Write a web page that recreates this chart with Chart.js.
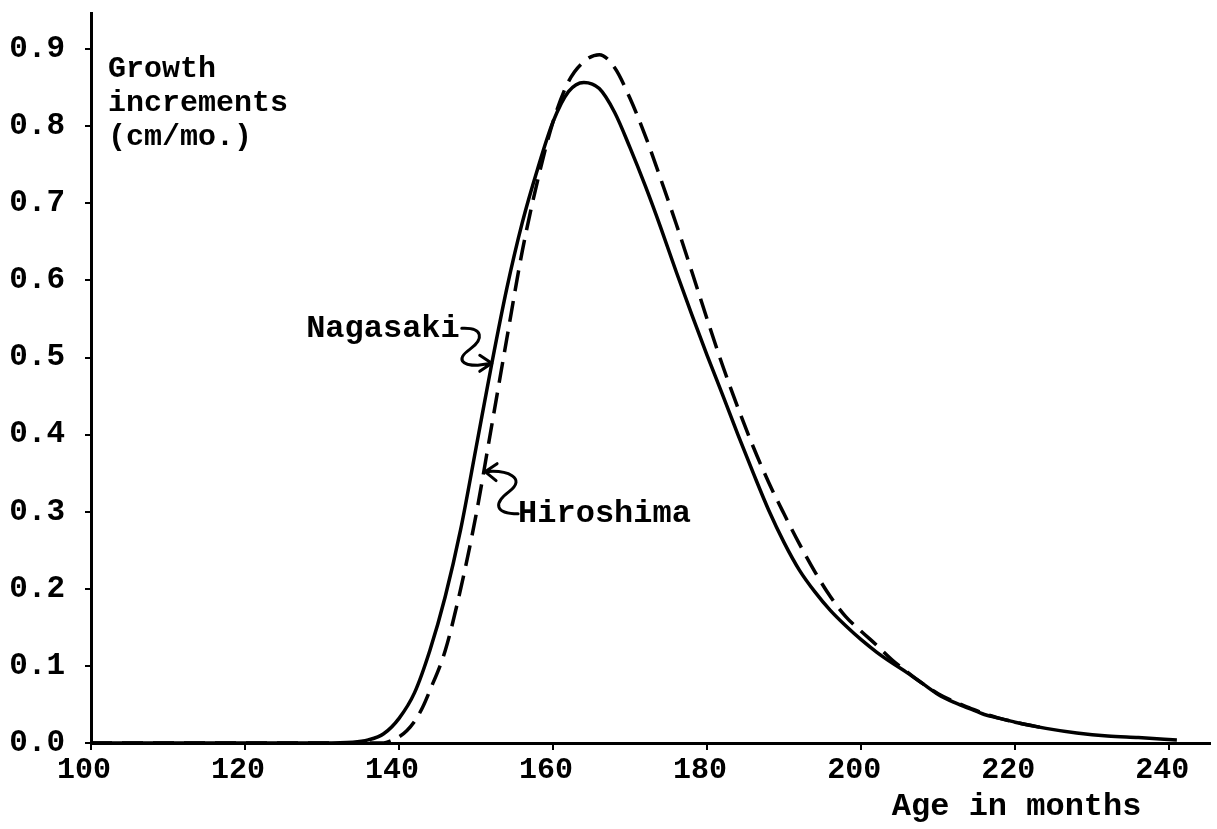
<!DOCTYPE html>
<html>
<head>
<meta charset="utf-8">
<script src="https://cdn.jsdelivr.net/npm/chart.js@4"></script>
<style>
  body { margin: 0; background: #fff; }
  canvas { display: block; }
</style>
</head>
<body>
<canvas id="growth" width="1217" height="829"></canvas>
<script>
// values
var nagasakiMonths = [100, 120, 130, 134, 136, 138, 140, 142, 144, 146, 148, 150, 152, 154, 156, 158, 160, 162, 164, 166, 168, 170, 172, 174, 176, 178, 180, 182, 184, 186, 188, 190, 192, 194, 196, 198, 200, 202, 204, 206, 208, 210, 212, 214, 216, 218, 220, 224, 228, 232, 236, 241];
var nagasakiValues = [0, 0, 0, 0.001, 0.004, 0.012, 0.032, 0.065, 0.12, 0.19, 0.277, 0.383, 0.49, 0.59, 0.675, 0.745, 0.806, 0.845, 0.857, 0.849, 0.818, 0.772, 0.722, 0.668, 0.611, 0.556, 0.503, 0.452, 0.40, 0.35, 0.302, 0.26, 0.224, 0.196, 0.172, 0.152, 0.134, 0.118, 0.104, 0.091, 0.077, 0.063, 0.053, 0.045, 0.037, 0.032, 0.027, 0.019, 0.013, 0.009, 0.007, 0.004];

var hiroshimaMonths = [100, 130, 138, 139, 140, 141, 142, 143, 144, 146, 148, 150, 152, 154, 156, 158, 160, 162, 164, 166, 168, 170, 172, 174, 176, 178, 180, 182, 184, 186, 188, 190, 192, 194, 196, 198, 200, 202, 204, 206, 208, 210, 212, 214, 216, 218, 220, 224];
var hiroshimaValues = [0, 0, 0, 0.003, 0.008, 0.016, 0.028, 0.045, 0.068, 0.12, 0.2, 0.296, 0.41, 0.525, 0.638, 0.73, 0.806, 0.858, 0.884, 0.893, 0.876, 0.836, 0.787, 0.731, 0.673, 0.612, 0.55, 0.49, 0.435, 0.384, 0.338, 0.297, 0.258, 0.222, 0.19, 0.164, 0.145, 0.127, 0.108, 0.092, 0.077, 0.064, 0.054, 0.046, 0.038, 0.032, 0.027, 0.019];

var xTicks = [100, 120, 140, 160, 180, 200, 220, 240];
var yTicks = [0, 0.1, 0.2, 0.3, 0.4, 0.5, 0.6, 0.7, 0.8, 0.9];

var FONT = '"Liberation Mono", "Courier New", monospace';

function toPoints(xs, ys) {
  var pts = [];
  for (var i = 0; i < xs.length; i++) pts.push({ x: xs[i], y: ys[i] });
  return pts;
}

// hand drawn labels with squiggly arrows, anchored on the curves
var notes = {
  id: 'notes',
  afterDatasetsDraw: function(chart) {
    var c = chart.ctx;
    var xs = chart.scales.x, ys = chart.scales.y;
    c.save();
    c.fillStyle = '#000';
    c.strokeStyle = '#000';
    c.lineWidth = 3;
    c.lineCap = 'round';
    c.lineJoin = 'round';
    c.textBaseline = 'middle';

    // y axis caption
    c.font = 'bold 30px ' + FONT;
    c.textAlign = 'left';
    var cx = xs.getPixelForValue(102.2);
    c.fillText('Growth', cx, ys.getPixelForValue(0.874));
    c.fillText('increments', cx, ys.getPixelForValue(0.83));
    c.fillText('(cm/mo.)', cx, ys.getPixelForValue(0.786));

    c.font = 'bold 32px ' + FONT;
    // Nagasaki
    var tx = xs.getPixelForValue(152.04), ty = ys.getPixelForValue(0.4925);
    c.textAlign = 'right';
    c.fillText('Nagasaki', tx - 32, ty - 34);
    c.beginPath();
    c.moveTo(tx - 30, ty - 35);
    c.bezierCurveTo(tx - 8, ty - 36, tx - 8, ty - 24, tx - 22, ty - 14);
    c.bezierCurveTo(tx - 36, ty - 4, tx - 30, ty + 2, tx - 14, ty + 2);
    c.lineTo(tx, ty);
    c.moveTo(tx - 12, ty - 8);
    c.lineTo(tx, ty);
    c.lineTo(tx - 12, ty + 8);
    c.stroke();

    // Hiroshima
    var hx = xs.getPixelForValue(151.17), hy = ys.getPixelForValue(0.352);
    c.textAlign = 'left';
    c.fillText('Hiroshima', hx + 33, hy + 42);
    c.beginPath();
    c.moveTo(hx, hy);
    c.bezierCurveTo(hx + 22, hy - 2, hx + 42, hy + 6, hx + 24, hy + 20);
    c.bezierCurveTo(hx + 8, hy + 32, hx + 10, hy + 42, hx + 33, hy + 42);
    c.moveTo(hx + 12, hy - 8);
    c.lineTo(hx, hy);
    c.lineTo(hx + 11, hy + 9);
    c.stroke();

    // x axis caption
    c.textAlign = 'right';
    c.fillText('Age in months', xs.getPixelForValue(236.4), xs.bottom - 22);
    c.restore();
  }
};

var config = {
  type: 'line',
  data: {
    datasets: [{
      label: 'Nagasaki',
      data: toPoints(nagasakiMonths, nagasakiValues),
      borderColor: '#000',
      borderWidth: 3.5,
      pointRadius: 0,
      cubicInterpolationMode: 'monotone',
      fill: false
    }, {
      label: 'Hiroshima',
      data: toPoints(hiroshimaMonths, hiroshimaValues),
      borderColor: '#000',
      borderWidth: 3.5,
      borderDash: [21, 10],
      pointRadius: 0,
      cubicInterpolationMode: 'monotone',
      fill: false
    }]
  },
  options: {
    responsive: false,
    animation: false,
    layout: { padding: { left: 0, right: 7, top: 13, bottom: 0 } },
    plugins: {
      legend: { display: false },
      tooltip: { enabled: false }
    },
    scales: {
      x: {
        type: 'linear',
        min: 100,
        max: 245.3,
        afterBuildTicks: function(s) { s.ticks = xTicks.map(function(v) { return { value: v }; }); },
        afterFit: function(s) { s.height = 86; s.paddingLeft = 0; s.paddingRight = 0; },
        border: { display: true, color: '#000', width: 3 },
        grid: { drawOnChartArea: false, drawTicks: true, tickLength: 7, color: '#000', lineWidth: 2 },
        ticks: {
          color: '#000',
          font: { family: FONT, size: 30, weight: 'bold' },
          padding: 2,
          labelOffset: -7,
          maxRotation: 0,
          autoSkip: false
        }
      },
      y: {
        min: 0,
        max: 0.947,
        afterBuildTicks: function(s) { s.ticks = yTicks.map(function(v) { return { value: v }; }); },
        afterFit: function(s) { s.width = 91; s.paddingTop = 0; s.paddingBottom = 0; },
        border: { display: true, color: '#000', width: 3 },
        grid: { drawOnChartArea: false, drawTicks: true, tickLength: 6, color: '#000', lineWidth: 2 },
        ticks: {
          color: '#000',
          font: { family: FONT, size: 31, weight: 'bold' },
          padding: 20,
          callback: function(v) { return v.toFixed(1); }
        }
      }
    }
  },
  plugins: [notes]
};

var ctx = document.getElementById('growth').getContext('2d');
window.growthChart = new Chart(ctx, config);
</script>
</body>
</html>
